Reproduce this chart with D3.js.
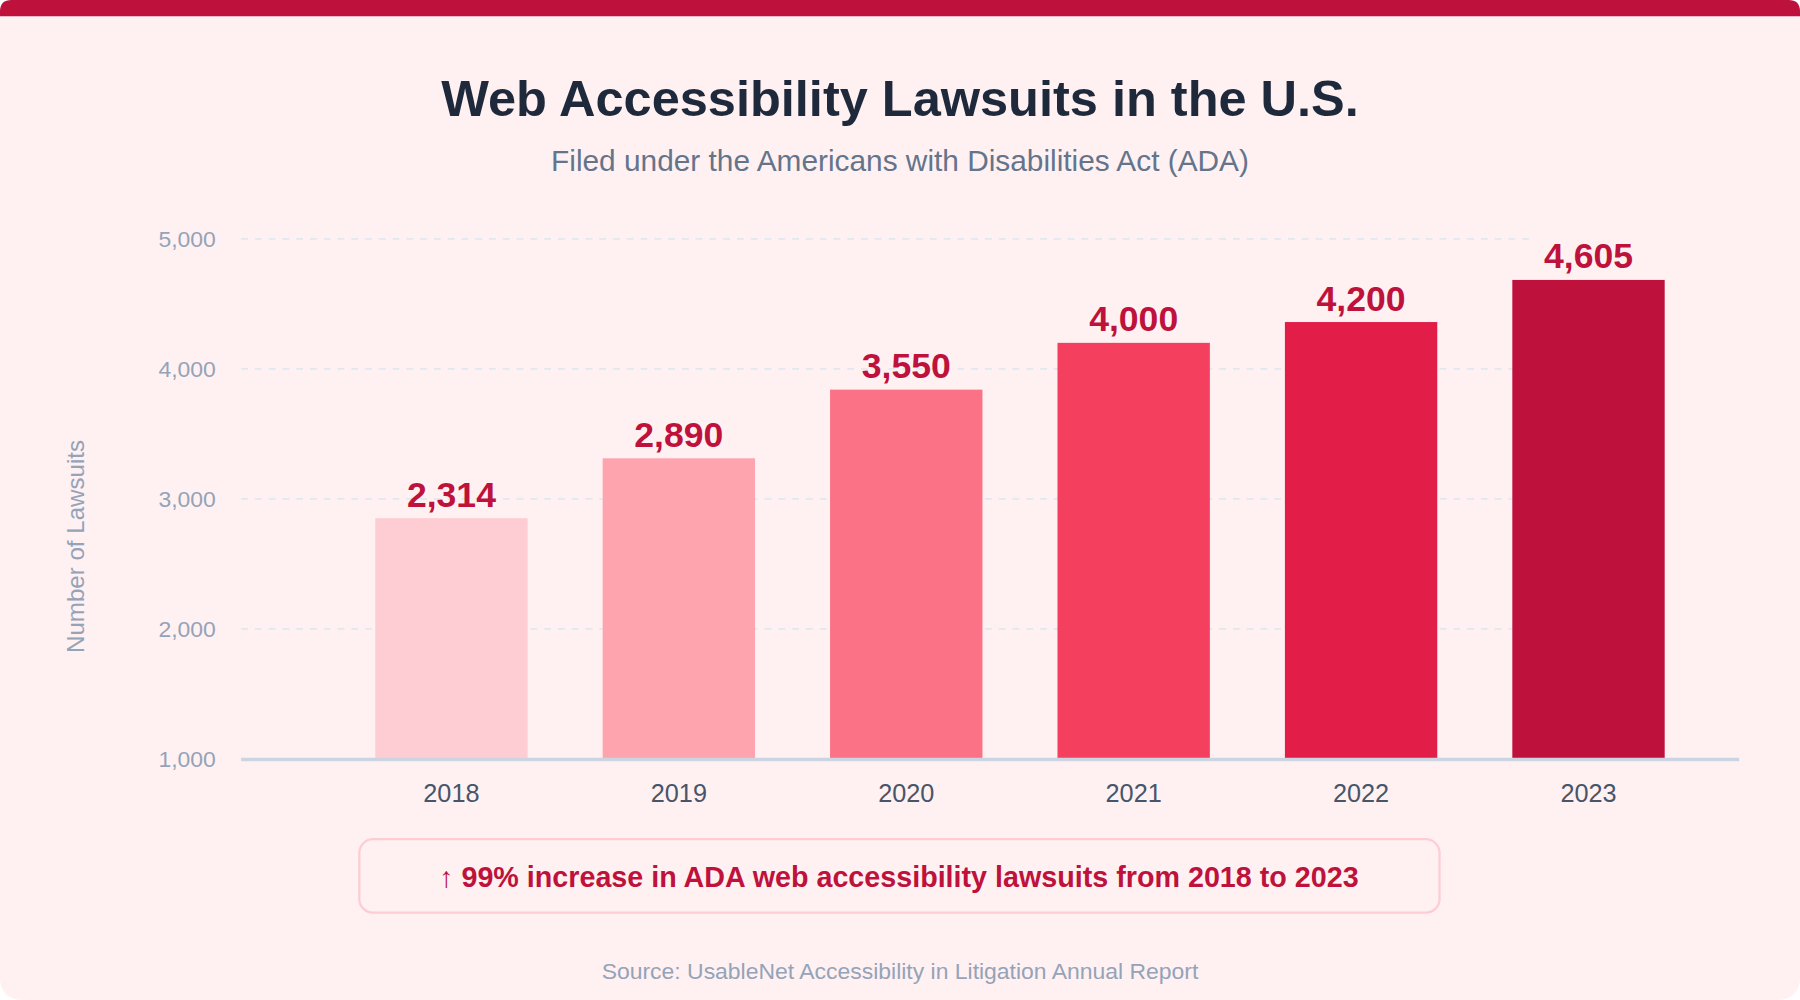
<!DOCTYPE html>
<html><head><meta charset="utf-8">
<script src="https://cdn.jsdelivr.net/npm/d3@7"></script>
<style>body{margin:0;background:#fff;}svg{display:block;font-family:"Liberation Sans",Arial,sans-serif;}</style>
</head><body>
<script>
// chart values
const years = ['2018', '2019', '2020', '2021', '2022', '2023']
const lawsuits = [2314, 2890, 3550, 4000, 4200, 4605]
const barColors = ['#fecdd3', '#fda4af', '#fb7185', '#f43f5e', '#e11d48', '#be123c']
const tickValues = [0, 1250, 2500, 3750, 5000]
const tickLabels = ['1,000', '2,000', '3,000', '4,000', '5,000']

const W = 1568, H = 871
const svg = d3.select('body').append('svg')
    .attr('width', 1800).attr('height', 1000)
    .attr('viewBox', [0, 0, W, H])

// card
svg.append('rect').attr('width', W).attr('height', H).attr('rx', 18).attr('fill', '#fff1f2')
svg.append('path').attr('d', `M0,14 V10 Q0,0 10,0 H${W - 10} Q${W},0 ${W},10 V14 Z`).attr('fill', '#be123c')

svg.append('text').attr('x', 784).attr('y', 101).attr('text-anchor', 'middle')
    .attr('font-size', 44).attr('font-weight', 700).attr('fill', '#1e293b')
    .text('Web Accessibility Lawsuits in the U.S.')
svg.append('text').attr('x', 784).attr('y', 149).attr('text-anchor', 'middle')
    .attr('font-size', 26).attr('fill', '#64748b')
    .text('Filed under the Americans with Disabilities Act (ADA)')

const x = d3.scaleBand().domain(years).range([261.5, 1515.5]).padding(0.33)
const y = d3.scaleLinear().domain([0, 5000]).range([661, 208])

// grid
svg.append('g').selectAll('line').data(tickValues.slice(1)).join('line')
    .attr('x1', 210).attr('x2', 1335)
    .attr('y1', d => y(d)).attr('y2', d => y(d))
    .attr('stroke', '#e2e8f0').attr('stroke-width', 1.5).attr('stroke-dasharray', '6,6')

// y tick labels
svg.append('g').selectAll('text').data(tickValues).join('text')
    .attr('x', 188).attr('y', d => y(d)).attr('dy', '0.35em')
    .attr('text-anchor', 'end').attr('font-size', 20).attr('fill', '#94a3b8')
    .text((d, i) => tickLabels[i])

svg.append('text').attr('transform', 'translate(73,476) rotate(-90)')
    .attr('text-anchor', 'middle').attr('font-size', 21).attr('fill', '#94a3b8')
    .text('Number of Lawsuits')

// bars
svg.append('g').selectAll('rect').data(lawsuits).join('rect')
    .attr('x', (d, i) => x(years[i])).attr('width', x.bandwidth())
    .attr('y', d => y(d)).attr('height', d => y(0) - y(d))
    .attr('fill', (d, i) => barColors[i])

svg.append('g').selectAll('text').data(lawsuits).join('text')
    .attr('x', (d, i) => x(years[i]) + x.bandwidth() / 2).attr('y', d => y(d) - 10)
    .attr('text-anchor', 'middle').attr('font-size', 31).attr('font-weight', 700).attr('fill', '#be123c')
    .text(d => d3.format(',')(d))

// x axis
svg.append('line').attr('x1', 210).attr('x2', 1515).attr('y1', 661.5).attr('y2', 661.5)
    .attr('stroke', '#cbd5e1').attr('stroke-width', 3)
svg.append('g').selectAll('text').data(years).join('text')
    .attr('x', d => x(d) + x.bandwidth() / 2).attr('y', 699)
    .attr('text-anchor', 'middle').attr('font-size', 22).attr('fill', '#475569')
    .text(d => d)

// callout
svg.append('rect').attr('x', 313).attr('y', 731).attr('width', 941).attr('height', 64).attr('rx', 12)
    .attr('fill', '#fff1f2').attr('stroke', '#fecdd3').attr('stroke-width', 2)
svg.append('text').attr('x', 783).attr('y', 773).attr('text-anchor', 'middle')
    .attr('font-size', 25).attr('font-weight', 700).attr('fill', '#be123c')
    .text('↑ 99% increase in ADA web accessibility lawsuits from 2018 to 2023')

svg.append('text').attr('x', 784).attr('y', 853).attr('text-anchor', 'middle')
    .attr('font-size', 20).attr('fill', '#94a3b8')
    .text('Source: UsableNet Accessibility in Litigation Annual Report')
</script>
</body></html>
